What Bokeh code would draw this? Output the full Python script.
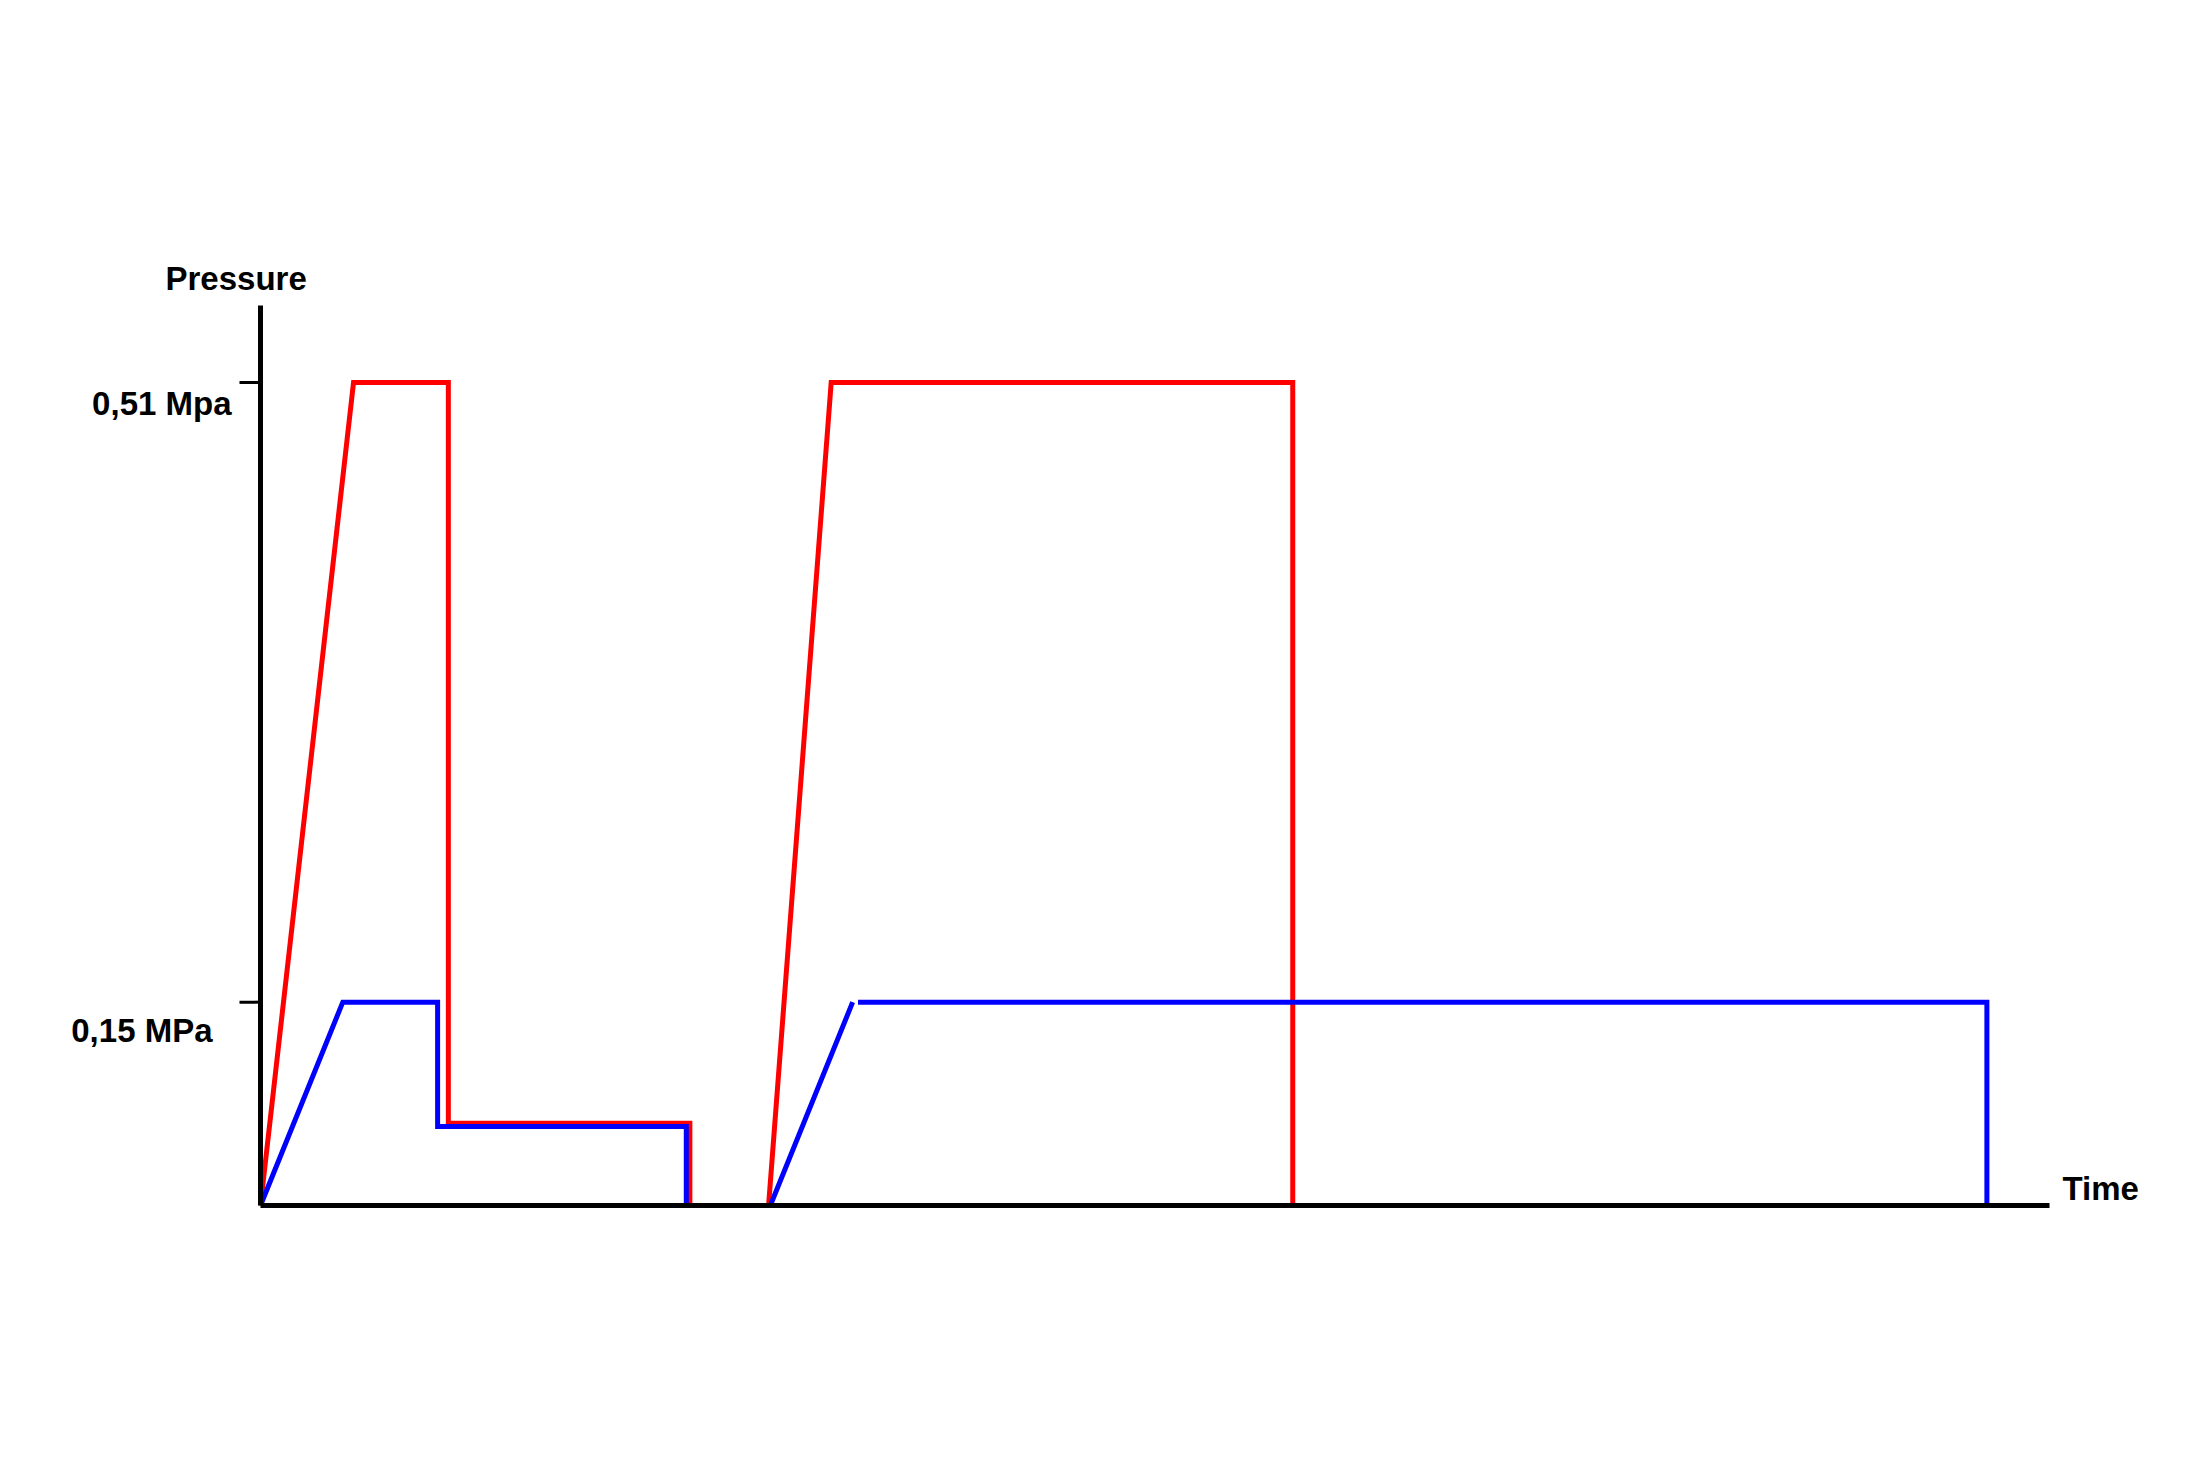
import math
from bokeh.plotting import figure
from bokeh.models import Range1d, FixedTicker
from bokeh.core.properties import value
from bokeh.embed import file_html
from bokeh.resources import INLINE

# ---- data (arbitrary time units, pressure levels as drawn in the schematic) ----
red_time = [0.0, 5.2, 10.5, 10.5, 24.0, 24.0, 28.4, 31.9, 57.7, 57.7]
red_pressure = [0.0, 0.51, 0.51, 0.051, 0.051, 0.0, 0.0, 0.51, 0.51, 0.0]

blue_time = [0.0, 4.6, 9.9, 9.9, 23.8, 23.8, 28.5, 33.1, math.nan, 33.4, 96.5, 96.5]
blue_pressure = [0.0, 0.126, 0.126, 0.049, 0.049, 0.0, 0.0, 0.126, math.nan, 0.126, 0.126, 0.0]

tick_values = [0.51, 0.126]
tick_labels = ["0,51 Mpa", "0,15 MPa"]
y_title = "Pressure"
x_title = "Time"

# ---- layout (pixel geometry of the canvas) ----
W, H = 2184, 1452
ORIGIN_PX_X, ORIGIN_PX_Y = 260, 1205          # where (0, 0) sits on the canvas
X_END, Y_END = 100.0, 0.5577                  # extent of the drawn axes
PX_PER_X = 1789 / X_END
PX_PER_Y = 823 / 0.51

x_range = Range1d(-ORIGIN_PX_X / PX_PER_X, (W - ORIGIN_PX_X) / PX_PER_X)
y_range = Range1d(-(H - ORIGIN_PX_Y) / PX_PER_Y, ORIGIN_PX_Y / PX_PER_Y)

FONT = "Liberation Sans"

p = figure(width=W, height=H, output_backend="svg", toolbar_location=None,
           x_range=x_range, y_range=y_range, min_border=0)
p.outline_line_color = None
p.xgrid.visible = False
p.ygrid.visible = False

# axes pinned at the origin
xa, ya = p.xaxis[0], p.yaxis[0]
xa.fixed_location = 0
ya.fixed_location = 0
xa.bounds = (0, X_END)
ya.bounds = (0, Y_END)
for ax in (xa, ya):
    ax.ticker = FixedTicker(ticks=[])
    ax.axis_line_width = 5
    ax.axis_line_color = "black"
    ax.major_tick_line_color = None
    ax.minor_tick_line_color = None

# tick marks on the pressure axis
p.ray(x=[0] * len(tick_values), y=tick_values, length=21, length_units="screen",
      angle=math.pi, line_color="black", line_width=3)

# series
p.line(red_time, red_pressure, line_color="#FF0000", line_width=5, line_join="miter")
p.line(blue_time, blue_pressure, line_color="#0000FF", line_width=5, line_join="miter")

# texts
common = dict(text_font=value(FONT), text_font_style="bold", text_font_size="33px",
              text_color="black")
p.text(x=[0, 0], y=tick_values, text=tick_labels, x_offset=[-29, -48], y_offset=[21, 28],
       text_align="right", text_baseline="middle", **common)
p.text(x=[0], y=[Y_END], text=[y_title], x_offset=-95, y_offset=-27,
       text_align="left", text_baseline="middle", **common)
p.text(x=[X_END], y=[0], text=[x_title], x_offset=13, y_offset=-17,
       text_align="left", text_baseline="middle", **common)

open("out.html", "w").write(file_html(p, INLINE))
